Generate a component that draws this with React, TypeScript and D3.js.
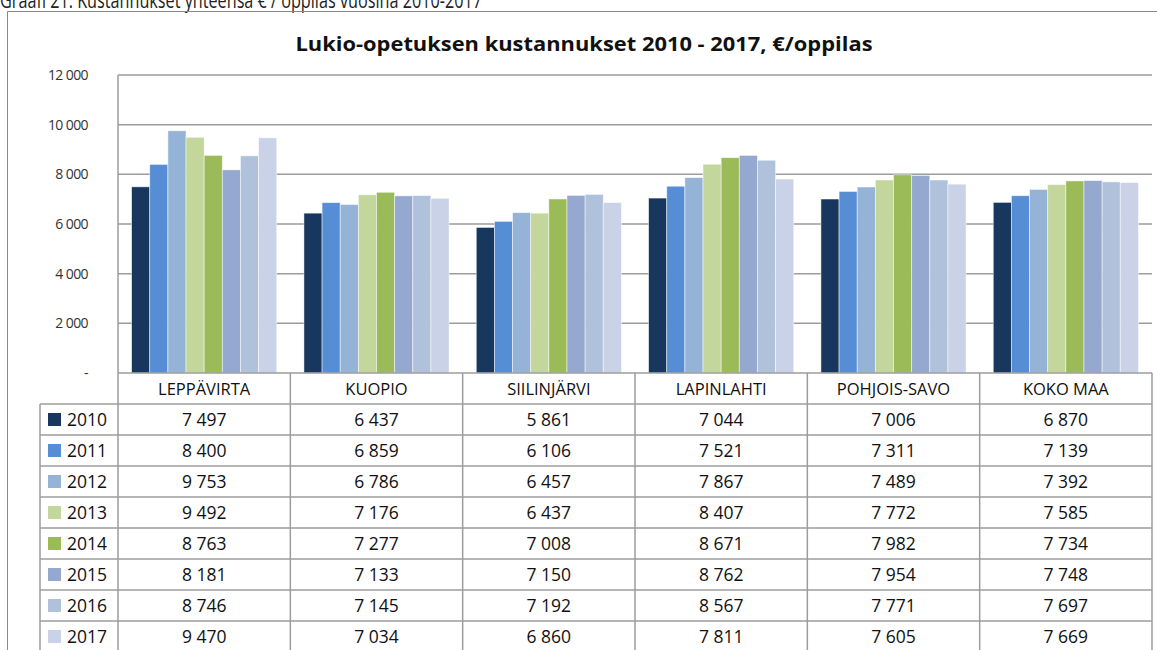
import React, { useEffect, useRef } from "react";
import * as d3 from "d3";

const categories = ["LEPPÄVIRTA", "KUOPIO", "SIILINJÄRVI", "LAPINLAHTI", "POHJOIS-SAVO", "KOKO MAA"];
const years = ["2010", "2011", "2012", "2013", "2014", "2015", "2016", "2017"];
const yearColors = ["#17375E", "#558ED5", "#95B3D7", "#C3D69B", "#9BBB59", "#95A9D0", "#B0C1DC", "#C9D2E6"];

// values per year, in category order
const v2010 = [7497, 6437, 5861, 7044, 7006, 6870];
const v2011 = [8400, 6859, 6106, 7521, 7311, 7139];
const v2012 = [9753, 6786, 6457, 7867, 7489, 7392];
const v2013 = [9492, 7176, 6437, 8407, 7772, 7585];
const v2014 = [8763, 7277, 7008, 8671, 7982, 7734];
const v2015 = [8181, 7133, 7150, 8762, 7954, 7748];
const v2016 = [8746, 7145, 7192, 8567, 7771, 7697];
const v2017 = [9470, 7034, 6860, 7811, 7605, 7669];
const yearValues = [v2010, v2011, v2012, v2013, v2014, v2015, v2016, v2017];

const yTicks = [0, 2000, 4000, 6000, 8000, 10000, 12000];

const caption = "Graafi 21. Kustannukset yhteensä € / oppilas vuosina 2010-2017";
const title = "Lukio-opetuksen kustannukset 2010 - 2017, €/oppilas";

const FONT = "'Open Sans', 'Liberation Sans', sans-serif";

function App() {
  const svgRef = useRef<SVGSVGElement | null>(null);
  const svgWidth = 1157;
  const svgHeight = 650;

  useEffect(() => {
    const svg = d3.select(svgRef.current);
    svg.selectAll("*").remove();

    const plotLeft = 118;
    const plotRight = 1152;
    const plotTop = 75;
    const plotBottom = 373;
    const rowH = 31;
    const legendLeft = 40;
    const lineColor = "#9c9c9c";

    const locale = d3.formatLocale({ decimal: ",", thousands: " ", grouping: [3], currency: ["", "€"] });
    const fmt = locale.format(",d");

    const x = d3.scaleBand().domain(categories).range([plotLeft, plotRight]);
    const xYear = d3
      .scaleBand()
      .domain(years)
      .range([0, x.bandwidth()])
      .paddingInner(0)
      .paddingOuter(0.75);
    const y = d3.scaleLinear().domain([0, 12000]).range([plotBottom, plotTop]);

    // caption above the chart (cut at the top, as in the source)
    svg
      .append("text")
      .attr("x", 0)
      .attr("y", 8)
      .attr("textLength", 482)
      .attr("lengthAdjust", "spacingAndGlyphs")
      .style("font-family", FONT)
      .style("font-size", "21px")
      .style("fill", "#222")
      .text(caption);

    // outer chart border
    svg
      .append("path")
      .attr("d", `M7.5,${svgHeight + 5} V11.5 H${svgWidth + 5}`)
      .attr("fill", "none")
      .attr("stroke", "#8a8a8a")
      .attr("stroke-width", 1);

    svg
      .append("text")
      .attr("x", 584)
      .attr("y", 51)
      .attr("text-anchor", "middle")
      .attr("textLength", 577)
      .attr("lengthAdjust", "spacingAndGlyphs")
      .style("font-family", FONT)
      .style("font-size", "19px")
      .style("font-weight", "bold")
      .style("fill", "#111")
      .text(title);

    // gridlines
    svg
      .append("g")
      .selectAll("line")
      .data(yTicks.filter((d) => d > 0))
      .enter()
      .append("line")
      .attr("x1", plotLeft)
      .attr("x2", plotRight)
      .attr("y1", (d) => y(d))
      .attr("y2", (d) => y(d))
      .attr("stroke", lineColor)
      .attr("stroke-width", 1.5);

    // y labels
    svg
      .append("g")
      .selectAll("text")
      .data(yTicks)
      .enter()
      .append("text")
      .attr("x", 88)
      .attr("y", (d) => y(d) + 5)
      .attr("text-anchor", "end")
      .style("font-family", FONT)
      .style("font-size", "14px")
      .style("fill", "#333")
      .style("letter-spacing", "-0.6px")
      .text((d) => (d === 0 ? "-" : fmt(d)));

    // bars
    const groups = svg
      .append("g")
      .selectAll("g")
      .data(categories)
      .enter()
      .append("g")
      .attr("transform", (d) => `translate(${x(d)},0)`);

    groups
      .selectAll("rect")
      .data((_, ci) => years.map((yr, yi) => ({ yr, yi, v: yearValues[yi][ci] })))
      .enter()
      .append("rect")
      .attr("x", (d) => xYear(d.yr)!)
      .attr("width", xYear.bandwidth())
      .attr("y", (d) => y(d.v))
      .attr("height", (d) => plotBottom - y(d.v))
      .attr("fill", (d) => yearColors[d.yi])
      .attr("stroke", "#ffffff")
      .attr("stroke-opacity", 0.6)
      .attr("stroke-width", 0.8);

    // table
    const table = svg.append("g");
    const tableBottom = plotBottom + rowH * (years.length + 1);

    table
      .append("line")
      .attr("x1", plotLeft)
      .attr("x2", plotRight)
      .attr("y1", plotBottom)
      .attr("y2", plotBottom)
      .attr("stroke", lineColor)
      .attr("stroke-width", 1.5);
    table
      .selectAll(".hrow")
      .data(d3.range(1, years.length + 1))
      .enter()
      .append("line")
      .attr("class", "hrow")
      .attr("x1", legendLeft)
      .attr("x2", plotRight)
      .attr("y1", (d) => plotBottom + d * rowH)
      .attr("y2", (d) => plotBottom + d * rowH)
      .attr("stroke", lineColor)
      .attr("stroke-width", 1.5);

    table
      .append("line")
      .attr("x1", plotLeft)
      .attr("x2", plotLeft)
      .attr("y1", plotTop)
      .attr("y2", tableBottom)
      .attr("stroke", lineColor)
      .attr("stroke-width", 1.5);
    table
      .append("line")
      .attr("x1", legendLeft)
      .attr("x2", legendLeft)
      .attr("y1", plotBottom + rowH)
      .attr("y2", tableBottom)
      .attr("stroke", lineColor)
      .attr("stroke-width", 1.5);
    table
      .selectAll(".vcol")
      .data(categories)
      .enter()
      .append("line")
      .attr("class", "vcol")
      .attr("x1", (d) => x(d)! + x.bandwidth())
      .attr("x2", (d) => x(d)! + x.bandwidth())
      .attr("y1", plotBottom)
      .attr("y2", tableBottom)
      .attr("stroke", lineColor)
      .attr("stroke-width", 1.5);

    // category headers
    table
      .selectAll(".cat")
      .data(categories)
      .enter()
      .append("text")
      .attr("class", "cat")
      .attr("x", (d) => x(d)! + x.bandwidth() / 2)
      .attr("y", plotBottom + rowH / 2 + 6)
      .attr("text-anchor", "middle")
      .style("font-family", FONT)
      .style("font-size", "16.5px")
      .style("fill", "#111")
      .text((d) => d);

    // legend keys + values
    years.forEach((yr, yi) => {
      const rowMid = plotBottom + rowH * (yi + 1) + rowH / 2;
      table
        .append("rect")
        .attr("x", 48)
        .attr("y", rowMid - 6.5)
        .attr("width", 13)
        .attr("height", 13)
        .attr("fill", yearColors[yi]);
      table
        .append("text")
        .attr("x", 67)
        .attr("y", rowMid + 6.5)
        .style("font-family", FONT)
        .style("font-size", "17.5px")
        .style("fill", "#111")
        .text(yr);
      table
        .selectAll(`.val${yi}`)
        .data(categories)
        .enter()
        .append("text")
        .attr("x", (d) => x(d)! + x.bandwidth() / 2)
        .attr("y", rowMid + 6.5)
        .attr("text-anchor", "middle")
        .style("font-family", FONT)
        .style("font-size", "17.5px")
        .style("fill", "#111")
        .text((_, ci) => fmt(yearValues[yi][ci]));
    });
  }, []);

  return (
    <div>
      <svg
        ref={svgRef}
        width={svgWidth}
        height={svgHeight}
        style={{ position: "absolute", left: 0, top: 0, background: "#fff" }}
      ></svg>
    </div>
  );
}

export default App;
